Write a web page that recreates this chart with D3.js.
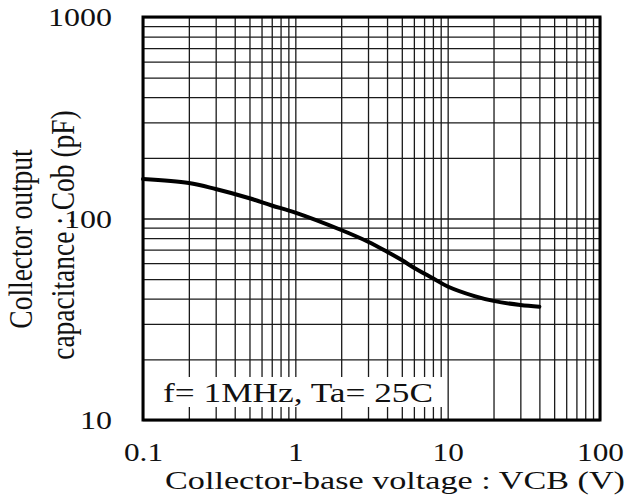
<!DOCTYPE html>
<html>
<head>
<meta charset="utf-8">
<script src="https://cdn.jsdelivr.net/npm/d3@7"></script>
<style>
  body { margin: 0; background: #fff; }
  svg text { font-family: "Liberation Serif", "DejaVu Serif", serif; fill: #111; }
</style>
</head>
<body>
<svg width="632" height="499"></svg>
<script>
// Curva Cob vs VCB
const vcb = [0.1, 0.2, 0.3, 0.5, 0.7, 1, 2, 3, 4, 5, 6, 8, 10, 15, 20, 30, 40];
const cob = [157, 150, 140, 126, 116, 107, 87.7, 76.7, 68.4, 62.2, 57, 50.5, 46, 41.2, 39, 37.2, 36.5];

// Etiquetas de los ejes
const xTicks = [0.1, 1, 10, 100];
const xTickLabels = ["0.1", "1", "10", "100"];
const yTicks = [10, 100, 1000];
const yTickLabels = ["10", "100", "1000"];

const svg = d3.select("svg");

// Área del gráfico
const margin = { top: 17, right: 32, bottom: 79, left: 143 };
const width = 632 - margin.left - margin.right;
const height = 499 - margin.top - margin.bottom;

const g = svg.append("g")
  .attr("transform", `translate(${margin.left},${margin.top})`);

// Escalas logarítmicas
const x = d3.scaleLog().domain([0.1, 100]).range([0, width]);
const y = d3.scaleLog().domain([10, 1000]).range([height, 0]);

// Valores de la rejilla: 1..9 por década
const gridX = [];
[0.1, 1, 10].forEach(d => { for (let k = 1; k <= 9; k++) gridX.push(d * k); });
gridX.push(100);
const gridY = [];
[10, 100].forEach(d => { for (let k = 1; k <= 9; k++) gridY.push(d * k); });
gridY.push(1000);

// Rejilla vertical
g.append("g")
  .attr("transform", `translate(0,${height})`)
  .call(d3.axisBottom(x).tickValues(gridX).tickSize(-height).tickFormat(""))
  .call(a => a.select(".domain").remove())
  .selectAll("line")
  .attr("stroke", "#1a1a1a")
  .attr("stroke-width", 1.3);

// Rejilla horizontal
g.append("g")
  .call(d3.axisLeft(y).tickValues(gridY).tickSize(-width).tickFormat(""))
  .call(a => a.select(".domain").remove())
  .selectAll("line")
  .attr("stroke", "#1a1a1a")
  .attr("stroke-width", 1.3);

// Recuadro de condiciones de medida
g.append("rect")
  .attr("x", 2)
  .attr("y", 360)
  .attr("width", 299)
  .attr("height", 30)
  .attr("fill", "#fff");

g.append("text")
  .attr("x", 20)
  .attr("y", 385)
  .attr("font-size", 28)
  .attr("textLength", 270)
  .attr("lengthAdjust", "spacingAndGlyphs")
  .text("f= 1MHz, Ta= 25C");

// Curva
const line = d3.line()
  .x((d, i) => x(vcb[i]))
  .y(d => y(d))
  .curve(d3.curveCatmullRom);

g.append("path")
  .datum(cob)
  .attr("d", line)
  .attr("fill", "none")
  .attr("stroke", "#000")
  .attr("stroke-width", 4)
  .attr("stroke-linecap", "round");

// Marco
g.append("rect")
  .attr("width", width)
  .attr("height", height)
  .attr("fill", "none")
  .attr("stroke", "#000")
  .attr("stroke-width", 3);

// Etiquetas eje X
g.append("g")
  .attr("transform", `translate(0,${height})`)
  .call(d3.axisBottom(x).tickValues(xTicks).tickSize(0).tickFormat((d, i) => xTickLabels[i]))
  .call(a => a.select(".domain").remove())
  .selectAll("text")
  .attr("y", 0)
  .attr("dy", 0)
  .attr("transform", "translate(0,41) scale(1.25,1)")
  .attr("font-size", 25)
  .attr("fill", "#111");

// Etiquetas eje Y
g.append("g")
  .call(d3.axisLeft(y).tickValues(yTicks).tickSize(0).tickFormat((d, i) => yTickLabels[i]))
  .call(a => a.select(".domain").remove())
  .selectAll("text")
  .attr("x", 0)
  .attr("dy", "0.35em")
  .attr("text-anchor", "end")
  .attr("transform", "translate(-31,0) scale(1.28,1)")
  .attr("font-size", 25)
  .attr("fill", "#111");

// Título eje X
svg.append("text")
  .attr("x", 165)
  .attr("y", 489)
  .attr("font-size", 26)
  .attr("textLength", 460)
  .attr("lengthAdjust", "spacingAndGlyphs")
  .text("Collector-base voltage : VCB (V)");

// Título eje Y (dos líneas)
const yLab = svg.append("g")
  .attr("transform", "translate(32,237) scale(1.25,1) rotate(-90)");

yLab.append("text")
  .attr("x", -2)
  .attr("y", 0)
  .attr("text-anchor", "middle")
  .attr("font-size", 27.5)
  .text("Collector output");

yLab.append("text")
  .attr("x", 2)
  .attr("y", 33.6)
  .attr("text-anchor", "middle")
  .attr("font-size", 27.5)
  .text("capacitance : Cob (pF)");
</script>
</body>
</html>
